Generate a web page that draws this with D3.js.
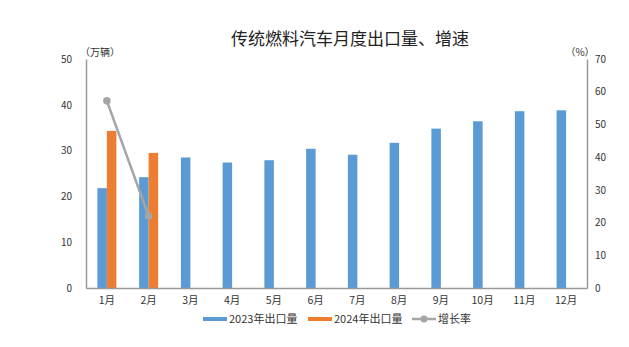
<!DOCTYPE html>
<html><head><meta charset="utf-8">
<script src="https://cdn.jsdelivr.net/npm/d3@7"></script>
<style>body{margin:0;background:#fff}svg{display:block}</style>
</head><body><svg id="c" width="629" height="347"></svg>
<script>
const months = ["1月","2月","3月","4月","5月","6月","7月","8月","9月","10月","11月","12月"];
const exports2023 = [21.8,24.2,28.5,27.4,27.9,30.4,29.1,31.7,34.8,36.4,38.6,38.8];
const exports2024 = [34.3,29.5];
const growth = [57.2,22.0];
const leftTicks = [0,10,20,30,40,50];
const rightTicks = [0,10,20,30,40,50,60,70];
const title = "传统燃料汽车月度出口量、增速";
const legendNames = ["2023年出口量","2024年出口量","增长率"];

const svg = d3.select("#c");
const L = 86, R = 587, T = 59, B = 288;
const font = "'Noto Sans CJK SC', 'Liberation Sans', sans-serif";
const x = d3.scaleBand().domain(months).range([L, R]);
const y = d3.scaleLinear().domain([0,50]).range([B, T]);
const y2 = d3.scaleLinear().domain([0,70]).range([B, T]);
const bw = 9.5;
const blue = "#5b9bd5", orange = "#ed7d31", gray = "#a5a5a5", axisC = "#999";

svg.append("text").attr("x", 350).attr("y", 45).attr("text-anchor","middle")
  .attr("font-family","'Noto Sans CJK SC', serif").attr("font-size",17).attr("fill","#222").text(title);

// bars
svg.append("g").selectAll("rect").data(exports2023).join("rect")
  .attr("x",(d,i)=>x(months[i])+x.bandwidth()/2-bw).attr("y",d=>y(d))
  .attr("width",bw).attr("height",d=>B-y(d)).attr("fill",blue);
svg.append("g").selectAll("rect").data(exports2024).join("rect")
  .attr("x",(d,i)=>x(months[i])+x.bandwidth()/2).attr("y",d=>y(d))
  .attr("width",bw).attr("height",d=>B-y(d)).attr("fill",orange);

// line
const line = d3.line().x((d,i)=>x(months[i])+x.bandwidth()/2).y(d=>y2(d));
svg.append("path").datum(growth).attr("d",line).attr("fill","none").attr("stroke",gray).attr("stroke-width",2.5);
svg.append("g").selectAll("circle").data(growth).join("circle")
  .attr("cx",(d,i)=>x(months[i])+x.bandwidth()/2).attr("cy",d=>y2(d)).attr("r",3.8).attr("fill",gray);

// axes
const la = svg.append("g").attr("transform",`translate(${L},0)`).call(d3.axisLeft(y).tickValues(leftTicks).tickSize(0).tickPadding(14));
const ra = svg.append("g").attr("transform",`translate(${R},0)`).call(d3.axisRight(y2).tickValues(rightTicks).tickSize(0).tickPadding(8));
const xa = svg.append("g").attr("transform",`translate(0,${B})`).call(d3.axisBottom(x).tickSize(0).tickPadding(9));
[la,ra,xa].forEach(g=>{
  g.select(".domain").attr("stroke",axisC).attr("stroke-width",1.5);
  g.selectAll("text").attr("font-family",font).attr("font-size",10).attr("fill","#333");
});
xa.selectAll("text").attr("font-size",10.5);

svg.append("text").attr("x",100).attr("y",56).attr("text-anchor","middle").attr("font-family",font).attr("font-size",10).attr("fill","#333").text("（万辆）");
svg.append("text").attr("x",580).attr("y",56).attr("text-anchor","middle").attr("font-family",font).attr("font-size",10).attr("fill","#333").text("（%）");

// legend
const lg = svg.append("g").attr("font-family",font).attr("font-size",11).attr("fill","#333");
const items = [{x:203,c:blue,m:false},{x:308,c:orange,m:false},{x:412,c:gray,m:true}];
items.forEach((it,i)=>{
  lg.append("line").attr("x1",it.x).attr("x2",it.x+24).attr("y1",319).attr("y2",319).attr("stroke",it.c).attr("stroke-width",it.m?2.5:4);
  if(it.m) lg.append("circle").attr("cx",it.x+12).attr("cy",319).attr("r",3.5).attr("fill",it.c);
  lg.append("text").attr("x",it.x+26).attr("y",323).text(legendNames[i]);
});
</script></body></html>
